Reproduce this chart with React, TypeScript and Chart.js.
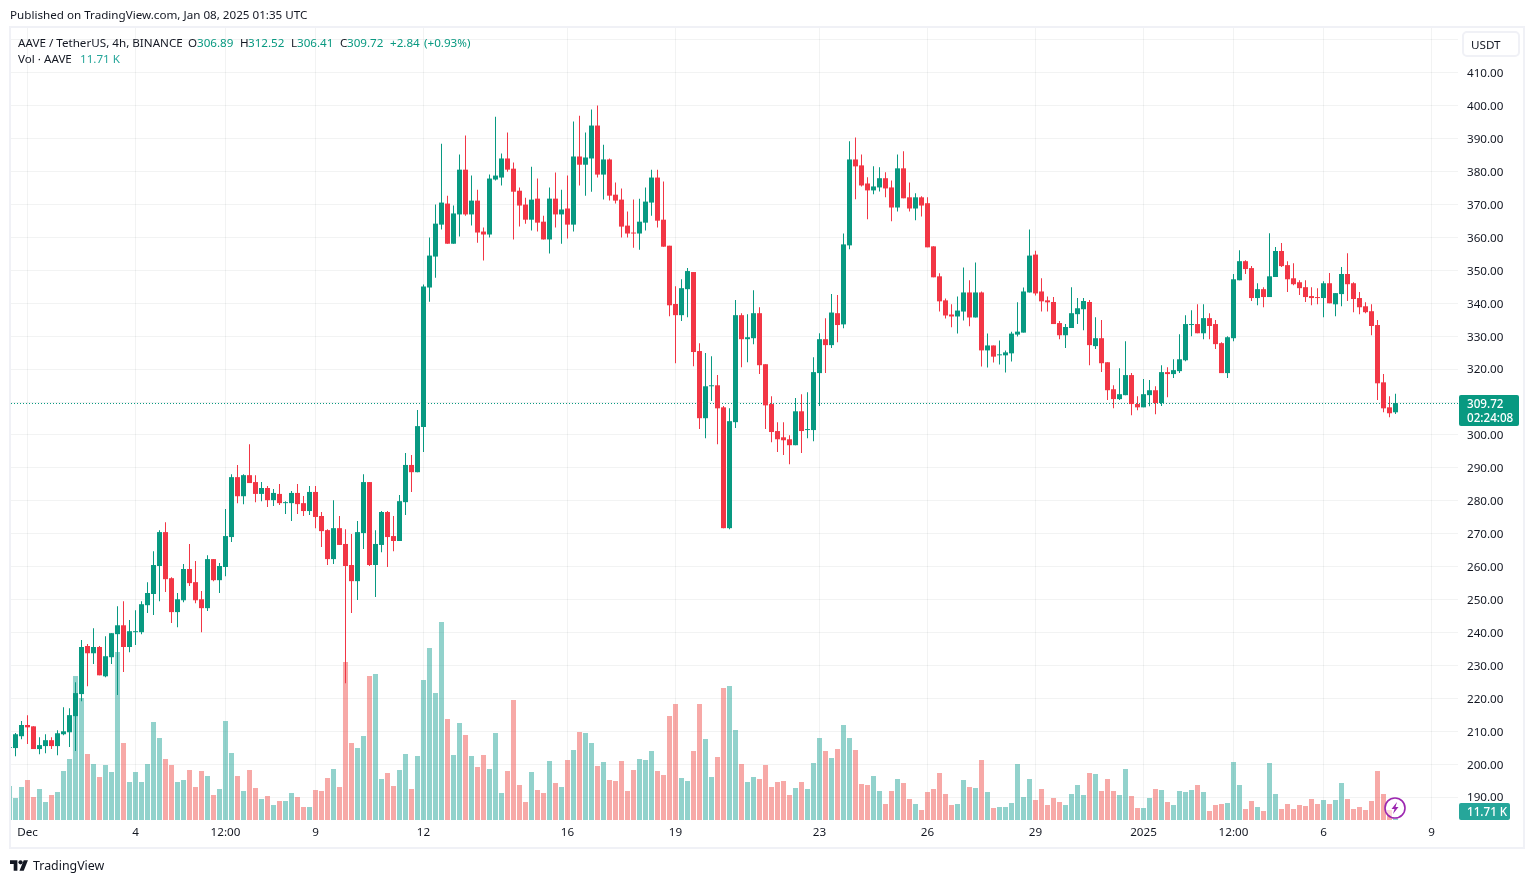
import React, { useEffect, useRef } from "react";
import { Chart, registerables } from "chart.js";

Chart.register(...registerables);

const opens = [
  205.0,204.9,208.5,211.9,211.5,204.6,205.5,207.3,205.5,209.1,
  209.7,214.6,221.3,235.9,233.7,235.6,226.7,232.5,239.5,242.2,
  235.6,240.1,240.1,248.3,251.7,260.2,270.5,256.5,246.2,249.8,
  259.3,255.3,250.1,247.4,262.3,255.9,259.9,269.0,287.2,281.4,
  287.8,285.7,282.1,283.9,280.2,282.1,279.3,279.3,282.4,279.3,
  276.9,282.7,275.4,271.1,262.3,271.7,266.9,260.5,255.6,270.2,
  285.7,260.5,266.6,276.6,269.3,267.8,279.6,290.9,288.7,302.4,
  344.8,354.2,363.9,370.3,358.1,367.0,380.6,367.0,371.2,361.8,
  360.9,377.6,378.2,384.0,380.9,374.2,370.0,365.4,371.8,364.8,
  359.4,371.8,367.0,368.8,363.9,384.6,382.1,384.0,394.0,379.1,
  383.7,373.0,371.5,363.6,361.5,361.2,364.5,370.6,378.2,365.4,
  357.5,339.8,336.4,344.3,349.5,325.5,305.1,314.8,315.1,308.4,
  271.7,303.9,336.4,329.1,329.4,337.0,321.5,309.4,301.2,299.3,
  298.7,296.9,307.2,301.5,301.5,318.8,329.1,327.3,337.0,333.6,
  357.6,383.7,381.9,376.4,374.3,375.2,378.0,375.2,369.1,381.0,
  372.2,368.8,372.2,370.4,357.3,348.2,340.9,336.6,336.0,337.5,
  343.3,335.7,343.3,325.7,327.2,324.2,324.2,324.8,330.5,331.1,
  343.3,354.8,343.6,340.9,340.4,334.0,330.3,332.5,336.7,338.2,
  340.4,327.0,329.4,322.1,313.9,310.9,312.1,318.2,309.4,308.4,
  312.1,313.6,309.7,319.1,318.5,319.4,322.7,333.4,333.7,330.9,
  335.5,333.7,327.9,318.8,329.4,347.0,352.8,350.7,341.6,344.3,
  341.9,348.0,355.9,351.6,347.6,346.4,344.9,342.2,341.9,341.6,
  346.1,339.7,342.8,348.9,346.1,341.6,339.1,337.6,333.4,316.0,
  308.4,306.89,
];
const highs = [
  205.4,209.5,213.1,214.9,211.5,208.2,209.1,208.2,210.3,217.3,
  217.0,224.9,237.7,236.5,241.3,235.9,238.9,239.8,248.0,249.5,
  243.8,246.8,249.5,255.3,264.7,271.1,273.5,256.8,252.0,260.8,
  266.9,261.7,252.6,263.5,262.3,261.1,277.5,288.1,290.9,288.1,
  297.2,287.8,285.7,284.5,283.6,285.1,279.9,283.0,285.1,281.5,
  284.5,284.5,276.6,271.4,280.2,275.4,271.4,269.9,273.9,288.1,
  285.7,271.1,276.9,276.9,275.4,281.8,294.5,293.9,307.6,345.7,
  360.0,370.0,388.5,372.7,369.7,385.2,391.0,378.8,374.5,363.0,
  379.1,396.7,385.5,391.9,382.8,375.2,372.1,381.5,377.9,366.6,
  375.2,379.7,374.5,378.8,395.2,397.0,391.9,398.9,400.1,388.2,
  384.0,376.7,374.9,367.9,371.5,371.8,375.2,380.6,380.6,377.0,
  357.5,345.2,347.3,350.7,349.5,327.9,324.9,323.9,318.2,308.8,
  308.1,341.0,337.0,336.7,344.0,338.8,321.5,311.8,303.9,303.9,
  299.9,311.2,312.4,313.0,323.6,330.9,335.5,342.8,342.5,361.2,
  389.2,390.4,385.2,378.3,381.6,381.3,379.8,377.3,385.2,386.2,
  376.7,373.4,372.5,372.2,357.3,349.1,341.5,339.7,342.1,350.9,
  347.0,352.4,343.6,330.8,327.2,328.7,325.7,331.4,340.3,344.8,
  362.4,356.0,347.6,342.1,341.9,334.6,333.7,344.9,341.6,341.6,
  341.0,335.8,334.9,322.1,315.1,320.3,328.5,318.8,311.8,317.0,
  316.7,314.8,321.2,320.6,323.0,330.6,336.4,337.9,339.7,339.7,
  337.0,334.9,328.2,330.0,348.9,356.1,353.1,351.3,346.1,344.9,
  361.3,357.1,358.3,352.8,352.2,347.0,347.0,344.9,344.6,346.7,
  349.2,343.1,351.0,355.2,346.4,343.4,340.3,339.7,334.9,318.5,
  311.8,312.52,
];
const lows = [
  204.8,202.4,207.6,206.1,204.6,203.0,203.3,204.6,202.7,208.8,
  205.2,204.0,219.1,223.7,230.4,227.0,226.4,230.4,221.0,228.0,
  234.0,236.2,239.5,245.9,245.3,249.5,252.3,242.9,241.6,249.2,
  254.1,248.9,240.1,246.5,255.6,252.0,257.1,267.5,279.3,279.0,
  285.4,279.6,279.9,278.1,278.4,278.7,276.0,273.9,276.0,275.4,
  275.7,271.7,266.0,260.5,260.8,266.6,224.6,245.9,249.9,265.4,
  260.2,250.8,264.4,259.9,264.7,267.8,275.7,282.7,288.7,294.8,
  340.5,347.8,362.4,358.1,358.1,360.3,366.6,363.6,358.4,353.0,
  360.0,377.3,375.8,380.0,359.4,363.3,364.2,362.1,361.8,359.4,
  355.1,363.0,358.1,359.7,361.8,375.8,372.7,373.9,378.2,371.5,
  371.2,370.3,360.0,360.0,356.9,356.3,362.1,366.6,363.0,357.2,
  336.1,321.8,334.6,335.8,320.9,301.8,299.0,310.3,297.2,271.7,
  271.4,302.1,320.6,322.1,327.6,318.5,301.8,297.8,294.8,293.9,
  291.1,296.9,294.5,299.0,298.1,308.8,318.8,326.4,328.2,332.4,
  356.4,371.6,375.5,365.5,373.1,374.0,372.2,364.9,367.9,371.9,
  367.9,365.2,366.4,357.0,347.9,337.5,335.4,332.7,330.8,334.8,
  333.0,335.7,320.8,320.5,322.0,321.4,319.0,322.3,329.9,331.1,
  343.3,342.4,337.5,337.5,333.7,329.1,326.4,332.5,333.7,331.8,
  321.2,326.1,319.1,310.6,308.1,310.6,312.1,306.0,307.5,308.4,
  308.7,306.3,308.8,311.5,317.3,318.8,322.4,330.0,330.9,329.1,
  329.1,326.1,318.8,317.3,328.5,347.0,348.9,340.7,339.4,338.8,
  341.9,348.0,351.0,343.4,345.5,342.5,340.4,339.4,339.7,335.8,
  340.0,336.1,339.1,340.7,337.3,336.7,337.0,330.3,310.6,306.9,
  305.4,306.41,
];
const closes = [
  205.2,209.1,211.9,211.2,204.6,205.8,207.3,205.5,209.4,210.0,
  214.9,221.6,235.6,233.7,235.6,227.0,232.8,239.8,242.2,235.6,
  240.4,240.4,248.6,252.0,260.5,270.5,256.2,246.2,250.1,259.3,
  255.0,249.8,247.4,262.3,255.9,260.2,269.3,287.2,281.4,287.8,
  285.4,282.1,283.9,280.2,282.4,279.3,279.6,282.4,279.0,276.9,
  282.7,275.1,270.8,262.3,271.7,266.6,260.2,255.6,270.5,285.7,
  260.5,266.9,276.6,269.0,267.8,279.9,290.9,288.7,302.7,345.1,
  354.5,364.2,370.6,358.1,367.3,380.6,367.0,371.2,361.5,360.9,
  377.9,378.8,384.0,380.6,373.9,369.7,365.4,371.5,364.5,359.4,
  371.8,367.0,368.5,363.9,384.6,382.1,384.3,394.0,379.1,383.7,
  372.7,371.2,363.3,361.2,361.2,364.8,370.9,378.2,365.1,357.2,
  339.4,336.4,344.6,349.8,325.2,305.1,314.8,315.1,308.1,271.7,
  304.2,336.4,329.1,329.7,337.0,321.2,309.0,300.9,298.7,298.4,
  296.9,307.2,301.2,301.8,319.1,329.1,327.3,337.2,333.4,357.9,
  383.7,381.6,375.8,374.3,375.5,378.0,374.9,369.1,381.0,371.9,
  368.8,372.2,369.7,357.0,347.9,340.6,336.3,336.0,337.8,343.3,
  335.7,343.3,325.7,327.2,323.8,324.5,325.1,330.8,331.4,343.6,
  354.5,343.0,340.6,340.3,333.7,330.3,332.8,337.0,338.5,340.7,
  327.3,329.4,321.8,313.6,310.9,312.4,318.2,309.4,308.4,312.4,
  313.6,309.7,319.1,318.5,319.7,323.0,333.7,333.7,330.9,335.5,
  333.1,327.6,318.8,329.7,347.3,352.8,350.4,341.6,344.3,341.9,
  348.2,355.9,351.3,347.3,345.8,344.6,341.9,341.6,341.6,346.1,
  340.0,343.1,348.9,345.8,341.3,338.8,337.3,333.1,315.7,308.1,
  306.6,309.72,
];
const volumesK = [
  306,198,297,360,207,279,162,225,252,441,
  549,1296,1098,594,504,387,495,432,1512,693,
  342,432,342,504,882,738,549,495,342,360,
  450,297,441,396,225,279,891,603,396,261,
  450,288,189,216,135,171,171,243,207,117,
  117,270,261,378,459,297,1422,693,648,756,
  1296,1314,369,423,306,450,594,279,576,1260,
  1548,1143,1782,909,585,873,765,576,477,585,
  459,783,243,441,1080,315,162,432,270,243,
  531,333,297,540,630,792,783,693,486,522,
  360,351,531,261,450,549,540,621,441,405,
  936,1044,378,351,621,1044,729,387,567,1188,
  1206,810,504,342,387,369,495,297,342,351,
  225,288,342,279,513,738,621,558,639,855,
  738,630,324,315,396,261,144,261,369,333,
  189,144,90,252,279,423,234,135,144,360,
  297,288,540,252,108,117,117,153,504,207,
  369,180,279,135,198,162,135,234,315,225,
  423,414,261,369,261,225,459,216,108,108,
  198,279,270,162,135,261,252,270,315,252,
  81,135,144,153,522,315,99,171,117,81,
  513,234,99,144,99,135,126,189,144,180,
  144,180,333,189,99,117,90,171,441,234,
  90,11.71,
];

const timeTickIndexes = [3, 21, 36, 51, 69, 93, 111, 135, 153, 171, 189, 204, 219, 237];
const timeTickLabels = ["Dec", "4", "12:00", "9", "12", "16", "19", "23", "26", "29", "2025", "12:00", "6", "9"];
const priceTicks = [190, 200, 210, 220, 230, 240, 250, 260, 270, 280, 290, 300, 310, 320, 330, 340, 350, 360, 370, 380, 390, 400, 410, 420];

const FONT = '"Noto Sans", sans-serif';
const FONT_SIZE = 11.65;
const UP = "#089981";
const DOWN = "#F23645";
const VOL_UP = "rgba(38,166,154,0.5)";
const VOL_DOWN = "rgba(239,83,80,0.5)";
const GRID = "rgba(42,46,57,0.06)";
const TEXT = "#131722";

const isUp = (i: number) => closes[i] >= opens[i];
const candleColors = opens.map((_, i) => (isUp(i) ? UP : DOWN));
const volumeColors = opens.map((_, i) => (isUp(i) ? VOL_UP : VOL_DOWN));

const lastPriceLine = {
  id: "lastPriceLine",
  beforeDatasetsDraw(chart: any) {
    const { ctx, chartArea, scales } = chart;
    const y = Math.round(scales.y.getPixelForValue(closes[closes.length - 1])) + 0.5;
    ctx.save();
    ctx.strokeStyle = UP;
    ctx.lineWidth = 1;
    ctx.setLineDash([1, 2]);
    ctx.beginPath();
    ctx.moveTo(chartArea.left, y);
    ctx.lineTo(chartArea.right, y);
    ctx.stroke();
    ctx.restore();
  },
};

function Txt({ x, y, children, color = TEXT, size = FONT_SIZE, weight = 400 }: any) {
  return (
    <div
      style={{
        position: "absolute",
        left: x,
        top: y - 10,
        height: 20,
        lineHeight: "20px",
        fontFamily: FONT,
        fontSize: size,
        fontWeight: weight,
        color,
        whiteSpace: "nowrap",
      }}
    >
      {children}
    </div>
  );
}

export default function App() {
  const ref = useRef<HTMLCanvasElement>(null);
  useEffect(() => {
    const indices = opens.map((_, i) => i);
    const chart = new Chart(ref.current as HTMLCanvasElement, {
      type: "bar",
      data: {
        datasets: [
          {
            label: "Body",
            order: 1,
            yAxisID: "y",
            grouped: false,
            barThickness: 5,
            inflateAmount: 0,
            backgroundColor: candleColors,
            data: indices.map((i) => ({ x: i, y: [Math.min(opens[i], closes[i]), Math.max(opens[i], closes[i])] })),
          },
          {
            label: "Wick",
            order: 2,
            yAxisID: "y",
            grouped: false,
            barThickness: 1,
            inflateAmount: 0,
            backgroundColor: candleColors,
            data: indices.map((i) => ({ x: i, y: [lows[i], highs[i]] })),
          },
          {
            label: "Vol",
            order: 3,
            yAxisID: "yVol",
            grouped: false,
            barThickness: 5,
            inflateAmount: 0,
            backgroundColor: volumeColors,
            data: indices.map((i) => ({ x: i, y: volumesK[i] })),
          },
        ] as any,
      },
      plugins: [lastPriceLine],
      options: {
        animation: false,
        responsive: false,
        maintainAspectRatio: false,
        layout: { padding: { left: 11, top: 28, right: 10, bottom: 35 } },
        plugins: { legend: { display: false }, tooltip: { enabled: false }, title: { display: false } },
        scales: {
          x: {
            type: "linear",
            offset: false,
            min: 0.25,
            max: 241.4167,
            border: { display: false },
            grid: { color: GRID, drawTicks: false, offset: false },
            afterBuildTicks: (s: any) => {
              s.ticks = timeTickIndexes.map((value) => ({ value }));
            },
            afterFit: (s: any) => {
              s.height = 28;
            },
            ticks: {
              autoSkip: false,
              maxRotation: 0,
              padding: 6,
              color: TEXT,
              font: { family: FONT, size: FONT_SIZE },
              callback: (v: any) => timeTickLabels[timeTickIndexes.indexOf(v)] ?? "",
            },
          },
          y: {
            type: "linear",
            position: "right",
            min: 183.05,
            max: 423.63,
            border: { display: false },
            grid: { color: GRID, drawTicks: false },
            afterBuildTicks: (s: any) => {
              s.ticks = priceTicks.map((value) => ({ value }));
            },
            afterFit: (s: any) => {
              s.width = 66;
            },
            ticks: {
              autoSkip: false,
              padding: 9,
              labelOffset: 1,
              crossAlign: "near",
              color: TEXT,
              font: { family: FONT, size: FONT_SIZE },
              callback: (v: any) => (v >= 420 ? "" : Number(v).toFixed(2)),
            },
          },
          yVol: { type: "linear", display: false, min: 0, max: 7128 },
        },
      } as any,
    });
    return () => chart.destroy();
  }, []);

  return (
    <div style={{ position: "fixed", inset: 0, width: 1534, height: 883, background: "#fff", overflow: "hidden" }}>
      <canvas ref={ref} width={1534} height={883} style={{ position: "absolute", left: 0, top: 0, width: 1534, height: 883 }} />
      <div style={{ position: "absolute", left: 9, top: 26, width: 1512, height: 819, border: "2px solid #f0f1f6", pointerEvents: "none" }} />
      <Txt x={10} y={15}>Published on TradingView.com, Jan 08, 2025 01:35 UTC</Txt>
      <Txt x={18} y={43}>AAVE / TetherUS, 4h, BINANCE</Txt>
      <Txt x={188} y={43}>O</Txt>
      <Txt x={197} y={43} color={UP}>306.89</Txt>
      <Txt x={240} y={43}>H</Txt>
      <Txt x={248} y={43} color={UP}>312.52</Txt>
      <Txt x={291} y={43}>L</Txt>
      <Txt x={297} y={43} color={UP}>306.41</Txt>
      <Txt x={340} y={43}>C</Txt>
      <Txt x={347} y={43} color={UP}>309.72</Txt>
      <Txt x={390} y={43} color={UP}>+2.84</Txt>
      <Txt x={424} y={43} color={UP}>(+0.93%)</Txt>
      <Txt x={18} y={59}>Vol · AAVE</Txt>
      <Txt x={80} y={59} color="#26a69a">11.71 K</Txt>
      <div style={{ position: "absolute", left: 1462, top: 31, width: 54, height: 22, border: "2px solid #f0f1f6", borderRadius: 5, background: "#fff" }} />
      <Txt x={1471} y={45}>USDT</Txt>
      <div style={{ position: "absolute", left: 1459, top: 395, width: 60, height: 31, background: UP, borderRadius: 2 }} />
      <Txt x={1467} y={404} color="#fff" weight={500}>309.72</Txt>
      <Txt x={1467} y={418} color="#fff" weight={500}>02:24:08</Txt>
      <div style={{ position: "absolute", left: 1459, top: 803, width: 51, height: 17, background: "#26a69a", borderRadius: 2 }} />
      <Txt x={1467} y={812} color="#fff" weight={500}>11.71 K</Txt>
      <svg style={{ position: "absolute", left: 1384, top: 797 }} width={22} height={22} viewBox="0 0 22 22">
        <circle cx={11} cy={11} r={10} fill="#fff" fillOpacity={0.6} stroke="#9c27b0" strokeWidth={1.6} />
        <path d="M13 5 L7.5 12 H10.5 L9 17 L14.5 10 H11.5 Z" fill="#9c27b0" />
      </svg>
      <svg style={{ position: "absolute", left: 10, top: 860 }} width={19} height={11} viewBox="0 0 36 20">
        <path d="M14 20H7V7H0V0h14v20zM34 0L26 20h-8l8-20h8z" fill="#131722" />
        <circle cx={20} cy={4} r={4} fill="#131722" />
      </svg>
      <Txt x={33} y={866} size={12.4}>TradingView</Txt>
    </div>
  );
}
